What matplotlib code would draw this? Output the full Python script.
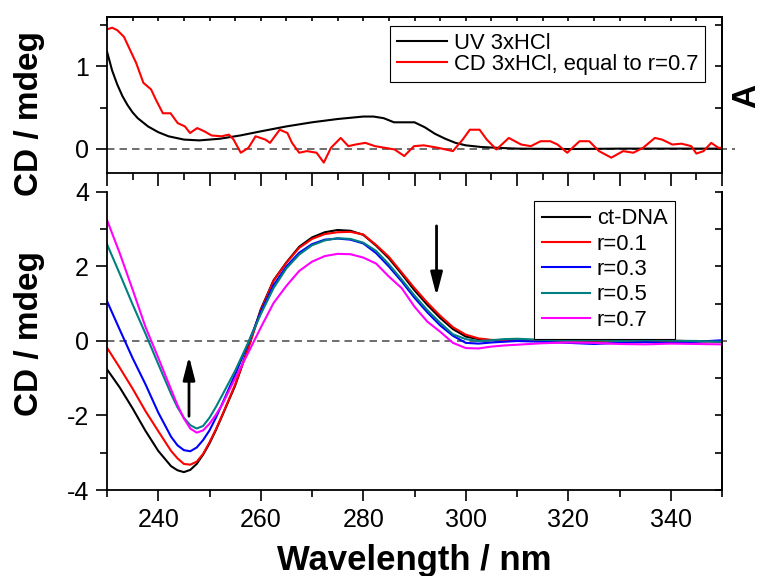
import matplotlib
matplotlib.use("Agg")
import matplotlib.pyplot as plt
from matplotlib.ticker import MultipleLocator, FixedLocator

plt.rcParams['font.family'] = ['Liberation Sans', 'DejaVu Sans']
plt.rcParams['axes.unicode_minus'] = False

# ---------------- data: top panel ----------------
uv_wl = [230, 231, 232, 233, 234, 235, 236, 238, 240, 242, 245, 248, 252, 256, 260, 265,
         270, 275, 280, 282, 284, 286, 288, 290, 292, 294, 296, 298, 300, 303, 306, 310,
         320, 330, 340, 350]
uv_abs = [1.18, 0.95, 0.78, 0.64, 0.53, 0.44, 0.37, 0.27, 0.20, 0.15, 0.11, 0.10, 0.12, 0.16,
          0.21, 0.27, 0.32, 0.36, 0.39, 0.39, 0.37, 0.32, 0.32, 0.32, 0.26, 0.18, 0.12, 0.07,
          0.04, 0.02, 0.01, 0.0, -0.005, 0.0, 0.0, 0.0]

cd_wl = [230, 231, 232, 233.3, 234.8, 235.7, 237.1, 238.6, 239.5, 240.9, 242.4, 243.8, 245.2,
         246.2, 247.6, 249, 250.4, 252.3, 253.8, 254.7, 256.1, 257.6, 259, 260.9, 261.8, 263.7,
         265.2, 266.1, 267.5, 269, 270.9, 272.3, 273.7, 275.6, 277.1, 278.5, 280.4, 282.3,
         284.2, 286.1, 288, 289.9, 291.8, 294.6, 297.5, 299.4, 300.8, 302.7, 304.1, 306,
         308.4, 310.8, 312.7, 314.6, 316.5, 317.9, 319.8, 322.2, 324.1, 326, 328.4, 330.7,
         332.7, 334.6, 336.9, 338.3, 340.3, 342.1, 344, 345, 346.4, 347.9, 349.3, 350]
cd_hcl = [1.45, 1.47, 1.44, 1.36, 1.16, 1.04, 0.80, 0.72, 0.60, 0.43, 0.43, 0.31, 0.27,
          0.19, 0.25, 0.21, 0.16, 0.15, 0.17, 0.11, -0.05, 0.01, 0.15, 0.11, 0.07, 0.23,
          0.19, 0.07, -0.05, -0.03, -0.05, -0.17, 0.01, 0.13, 0.03, 0.05, 0.07, 0.03,
          0.01, -0.01, -0.09, 0.03, 0.04, 0.01, -0.03, 0.11, 0.23, 0.23, 0.11, -0.01,
          0.13, 0.05, 0.03, 0.09, 0.09, 0.05, -0.05, 0.09, 0.09, -0.03, -0.11, -0.03,
          -0.05, 0.01, 0.13, 0.11, 0.05, 0.06, 0.03, -0.06, -0.03, 0.07, 0.01, 0.01]

# ---------------- data: bottom panel ----------------
wl = [230, 232.5, 235, 237.5, 240, 242.5, 243.75, 245, 246.25, 247.5, 248.75, 250, 251.25,
      252.5, 255, 257.5, 260, 262.5, 265, 267.5, 270, 272.5, 275, 277.5, 280, 282.5, 285,
      287.5, 290, 292.5, 295, 297.5, 300, 302.5, 305, 307.5, 310, 315, 320, 325, 330, 335,
      340, 345, 350]
ct_dna = [-0.76, -1.25, -1.81, -2.41, -2.95, -3.36, -3.47, -3.52, -3.46, -3.30, -3.05, -2.75,
          -2.39, -2.00, -1.20, -0.20, 0.85, 1.63, 2.11, 2.53, 2.78, 2.92, 2.98, 2.96, 2.85,
          2.56, 2.22, 1.80, 1.36, 0.97, 0.62, 0.32, 0.12, 0.05, 0.02, 0.02, 0.03, 0.01, 0.0,
          -0.02, 0.0, 0.01, -0.01, 0.0, -0.02]
r01 = [-0.18, -0.72, -1.28, -1.88, -2.42, -2.95, -3.15, -3.30, -3.32, -3.24, -3.03, -2.72,
       -2.37, -1.98, -1.17, -0.23, 0.82, 1.62, 2.10, 2.50, 2.74, 2.87, 2.92, 2.93, 2.86,
       2.58, 2.26, 1.84, 1.42, 1.03, 0.68, 0.37, 0.17, 0.07, 0.03, 0.02, 0.03, 0.01, 0.0,
       0.01, -0.01, 0.0, 0.01, -0.01, 0.0]
r03 = [1.07, 0.30, -0.46, -1.16, -1.92, -2.57, -2.80, -2.93, -2.96, -2.86, -2.66, -2.40,
       -2.06, -1.68, -0.90, -0.08, 0.78, 1.50, 2.00, 2.37, 2.60, 2.72, 2.75, 2.72, 2.62,
       2.36, 2.00, 1.60, 1.16, 0.77, 0.42, 0.14, -0.05, -0.07, -0.04, -0.02, 0.0, -0.02,
       -0.05, -0.08, -0.05, -0.03, -0.05, -0.02, 0.02]
r05 = [2.60, 1.80, 0.98, 0.20, -0.62, -1.42, -1.78, -2.06, -2.26, -2.35, -2.28, -2.06,
       -1.77, -1.45, -0.80, -0.06, 0.72, 1.42, 1.95, 2.32, 2.57, 2.70, 2.76, 2.74, 2.64,
       2.42, 2.06, 1.65, 1.22, 0.83, 0.49, 0.18, 0.05, 0.0, 0.02, 0.05, 0.06, 0.03, 0.01,
       0.02, 0.0, 0.02, 0.01, 0.0, -0.02]
r07 = [3.25, 2.35, 1.38, 0.38, -0.45, -1.30, -1.72, -2.08, -2.35, -2.46, -2.40, -2.22,
       -1.98, -1.70, -1.00, -0.33, 0.36, 1.02, 1.48, 1.88, 2.13, 2.28, 2.34, 2.33, 2.24,
       2.08, 1.73, 1.42, 0.92, 0.52, 0.25, -0.05, -0.19, -0.20, -0.15, -0.12, -0.10, -0.06,
       -0.04, -0.05, -0.08, -0.09, -0.07, -0.08, -0.09]

bottom_series = [ct_dna, r01, r03, r05, r07]
bottom_labels = ['ct-DNA', 'r=0.1', 'r=0.3', 'r=0.5', 'r=0.7']
bottom_colors = ['#000000', '#ff0000', '#0000ff', '#008080', '#ff00ff']

W, H = 763, 576
fig = plt.figure(figsize=(W / 100, H / 100), dpi=100)

def box(l, t, r, b):
    return [l / W, 1 - b / H, (r - l) / W, (b - t) / H]

axT = fig.add_axes(box(107, 16.7, 722, 173.3))
axB = fig.add_axes(box(107, 192, 722, 490))

lw_sp = 1.3
for ax in (axT, axB):
    for s in ax.spines.values():
        s.set_linewidth(lw_sp)
axB.spines['top'].set_visible(False)

# ---- top panel ----
axT.plot(uv_wl, uv_abs, color='black', lw=1.5, label='UV 3xHCl')
axT.plot(cd_wl, cd_hcl, color='#ff0000', lw=1.5, label='CD 3xHCl, equal to r=0.7')
axT.plot([230, 352.5], [0, 0], color='#555555', lw=1.2, dashes=(4.5, 3), clip_on=False, zorder=1)
axT.set_xlim(230, 350)
axT.set_ylim(-0.3, 1.604)
axT.xaxis.set_major_locator(MultipleLocator(10))
axT.xaxis.set_minor_locator(MultipleLocator(5))
axT.yaxis.set_major_locator(FixedLocator([0, 1]))
axT.yaxis.set_minor_locator(FixedLocator([0.5, 1.5]))
axT.tick_params(axis='x', which='major', direction='out', length=9, width=1.2, labelbottom=False)
axT.tick_params(axis='x', which='minor', direction='out', length=5, width=1.2)
axT.tick_params(axis='y', which='major', direction='out', length=8, width=1.2, labelsize=18, pad=5)
axT.tick_params(axis='y', which='minor', direction='out', length=5, width=1.2)

secT = axT.secondary_xaxis('top')
secT.xaxis.set_major_locator(MultipleLocator(5))
secT.tick_params(axis='x', which='both', direction='in', length=3, width=1.2, labeltop=False)
secT.spines['top'].set_linewidth(lw_sp)
secR = axT.secondary_yaxis('right')
secR.yaxis.set_major_locator(FixedLocator([0, 0.5, 1, 1.5]))
secR.tick_params(axis='y', which='both', direction='in', length=5, width=1.2, labelright=False)
secR.spines['right'].set_linewidth(lw_sp)

legT = axT.legend(loc='upper right', bbox_to_anchor=(0.972, 0.941), borderaxespad=0,
                  fontsize=15.8, frameon=True, fancybox=False, framealpha=1,
                  edgecolor='black', handlelength=2.3, handletextpad=0.3,
                  labelspacing=0.02, borderpad=0.3)
legT.get_frame().set_linewidth(0.8)

# ---- bottom panel ----
for ys, lab, col in zip(bottom_series, bottom_labels, bottom_colors):
    axB.plot(wl, ys, color=col, lw=1.5, label=lab)
axB.plot([230, 351.5], [0, 0], color='#555555', lw=1.2, dashes=(4.5, 3), clip_on=False, zorder=1)
axB.set_xlim(230, 350)
axB.set_ylim(-4, 4)
axB.xaxis.set_major_locator(MultipleLocator(20))
axB.xaxis.set_minor_locator(MultipleLocator(10))
axB.yaxis.set_major_locator(MultipleLocator(2))
axB.yaxis.set_minor_locator(MultipleLocator(1))
axB.tick_params(which='major', direction='out', length=8, width=1.2, labelsize=18, pad=5)
axB.tick_params(which='minor', direction='out', length=5, width=1.2)
secBR = axB.secondary_yaxis('right')
secBR.yaxis.set_major_locator(MultipleLocator(1))
secBR.tick_params(axis='y', which='both', direction='in', length=5, width=1.2, labelright=False)
secBR.spines['right'].set_linewidth(lw_sp)

legB = axB.legend(loc='upper right', bbox_to_anchor=(0.9236, 0.971), borderaxespad=0,
                  fontsize=15.8, frameon=True, fancybox=False, framealpha=1,
                  edgecolor='black', handlelength=2.2, handletextpad=0.3,
                  labelspacing=0.2, borderpad=0.35)
legB.get_frame().set_linewidth(0.8)

arrow_kw = dict(arrowstyle='-|>,head_length=0.7,head_width=0.18', lw=2, color='black',
                mutation_scale=20, shrinkA=0, shrinkB=0)
axB.annotate('', xy=(246, -0.41), xytext=(246, -2.02), arrowprops=arrow_kw)
axB.annotate('', xy=(294.3, 1.21), xytext=(294.3, 3.09), arrowprops=arrow_kw)

# ---- labels ----
def ftext(x, y, s, **kw):
    fig.text(x / W, 1 - y / H, s, **kw)

ftext(30, 114, 'CD / mdeg', rotation=90, ha='center', va='center', fontsize=24, fontweight='bold')
ftext(30, 334, 'CD / mdeg', rotation=90, ha='center', va='center', fontsize=24, fontweight='bold')
ftext(747, 96, 'A', rotation=90, ha='center', va='center', fontsize=24, fontweight='bold')
ftext(414.5, 570, 'Wavelength / nm', ha='center', va='baseline', fontsize=25, fontweight='bold')

fig.savefig('out.png', dpi=100)
